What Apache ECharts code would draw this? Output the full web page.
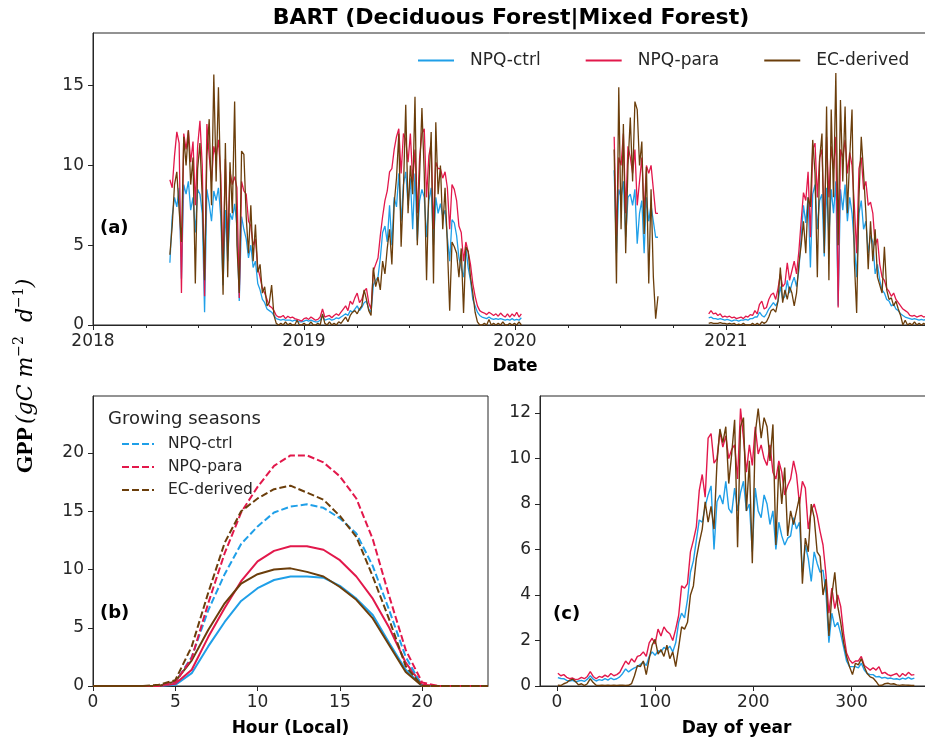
<!DOCTYPE html>
<html>
<head>
<meta charset="utf-8">
<title>BART GPP</title>
<script src="https://cdn.jsdelivr.net/npm/echarts@6/dist/echarts.min.js"></script>
<style>
  html, body { margin: 0; padding: 0; background: #fff; }
  #chart { width: 925px; height: 738px; }
</style>
</head>
<body>
<div id="chart"></div>
<script>
// ---------------- (a) daily GPP, sampled every 4 days ----------------
// day numbers count from 2018-01-01; null rows mark the gaps in the record
const daysA = [
  133,137,141,145,149,153,157,161,165,169,173,177,181,185,189,193,197,201,205,209,
  213,217,221,225,229,233,237,241,245,249,253,257,261,265,269,273,277,281,285,289,
  293,297,301,305,309,313,317,321,325,329,333,337,341,345,349,353,357,361,365,369,
  373,377,381,385,389,393,397,401,405,409,413,417,421,425,429,433,437,441,445,449,
  453,457,461,465,469,473,477,481,485,489,493,497,501,505,509,513,517,521,525,529,
  533,537,541,545,549,553,557,561,565,569,573,577,581,585,589,593,597,601,605,609,
  613,617,621,625,629,633,637,641,645,649,653,657,661,665,669,673,677,681,685,689,
  693,697,701,705,709,713,717,721,725,729,733,737,741,
  820,
  902,906,910,914,918,922,926,930,934,938,942,946,950,954,958,962,966,970,974,978,
  1020,
  1066,1070,1074,1078,1082,1086,1090,1094,1098,1102,1106,1110,1114,1118,1122,1126,1130,1134,1138,1142,
  1146,1150,1154,1158,1162,1166,1170,1174,1178,1182,1186,1190,1194,1198,1202,1206,1210,1214,1218,1222,
  1226,1230,1234,1238,1242,1246,1250,1254,1258,1262,1266,1270,1274,1278,1282,1286,1290,1294,1298,1302,
  1306,1310,1314,1318,1322,1326,1330,1334,1338,1342,1346,1350,1354,1358,1362,1366,1370,1374,1378,1382,
  1386,1390,1394,1398,1402,1406,1410,1414,1418,1422,1426,1430,1434,1438,1442,1446,1450,1454,1458
];
const ctrlA = [
  3.9,6.8,8.0,7.4,8.6,2.9,8.8,8.2,9.0,7.2,8.0,5.8,8.5,8.2,7.0,0.8,8.5,7.6,6.5,8.4,
  7.8,8.6,6.8,2.5,7.2,4.0,7.0,6.6,7.6,6.2,1.5,6.8,6.0,5.4,4.2,5.0,3.6,4.0,2.6,2.2,
  1.6,1.4,1.0,0.9,0.8,0.6,0.4,0.35,0.3,0.35,0.3,0.3,0.3,0.25,0.3,0.25,0.2,0.2,0.25,0.3,
  0.25,0.3,0.25,0.2,0.2,0.3,0.6,0.3,0.35,0.4,0.3,0.35,0.45,0.4,0.5,0.6,0.7,0.6,0.9,0.8,
  1.0,1.2,0.9,1.1,1.4,1.5,1.0,0.8,2.5,2.8,3.0,4.2,5.8,6.2,5.2,7.5,5.0,8.0,7.4,9.5,
  6.5,8.8,9.6,7.5,9.2,6.0,9.5,5.3,7.8,8.5,8.0,5.5,7.8,8.6,5.0,8.0,7.0,7.6,6.8,7.2,
  5.5,4.0,6.6,6.4,5.6,4.2,3.6,3.0,4.8,3.6,2.8,1.6,1.2,0.8,0.6,0.5,0.45,0.4,0.5,0.4,
  0.35,0.4,0.35,0.4,0.35,0.3,0.35,0.3,0.4,0.3,0.35,0.3,0.45,
  null,
  9.7,4.5,8.5,8.0,9.0,5.5,8.0,8.2,7.5,8.5,5.1,7.0,7.8,4.5,8.0,6.5,7.5,6.5,5.5,5.5,
  null,
  0.45,0.5,0.4,0.4,0.35,0.4,0.35,0.3,0.35,0.3,0.25,0.3,0.3,0.25,0.3,0.3,0.35,0.3,0.4,0.4,
  0.5,0.5,0.8,0.6,0.5,0.7,1.0,1.2,1.4,1.2,1.5,2.4,1.6,1.8,2.8,2.0,2.6,3.0,2.4,3.4,
  5.5,7.5,6.4,8.0,3.6,8.2,8.8,6.0,7.8,8.2,4.3,8.6,5.5,8.5,7.0,9.0,1.2,8.5,7.2,8.8,
  6.5,8.0,7.0,5.0,3.0,7.0,7.8,6.0,6.5,4.5,5.6,5.2,3.2,3.8,2.8,2.2,2.0,1.6,1.5,1.2,
  1.3,1.0,0.9,0.7,0.6,0.5,0.45,0.4,0.35,0.4,0.35,0.3,0.35,0.3,0.35,0.3,0.35,0.3,0.35
];
const paraA = [
  9.1,8.6,10.6,12.1,11.4,2.0,12.0,11.0,12.2,10.2,11.5,7.5,11.2,12.8,10.0,1.8,12.6,10.6,9.0,11.2,
  10.5,11.6,9.4,3.5,10.4,5.0,9.6,8.8,9.3,8.6,1.7,9.0,8.4,8.2,6.5,6.2,5.0,5.4,3.6,3.0,
  2.3,2.0,1.6,1.2,1.1,0.9,0.6,0.5,0.5,0.6,0.4,0.55,0.45,0.5,0.4,0.35,0.3,0.25,0.4,0.45,
  0.35,0.5,0.4,0.3,0.35,0.5,1.0,0.5,0.55,0.6,0.45,0.6,0.7,0.6,0.8,1.0,1.2,0.9,1.5,1.3,
  1.7,2.0,1.4,1.6,2.1,2.3,1.4,1.0,3.4,3.8,4.2,5.6,6.8,7.8,8.4,9.6,9.8,11.0,11.8,12.3,
  9.5,12.0,11.6,10.2,12.0,9.0,11.0,7.0,10.5,12.0,12.3,8.0,10.6,11.4,6.0,10.2,9.8,9.8,9.2,9.6,
  8.6,6.0,8.8,8.5,7.8,6.2,5.8,4.0,5.2,4.6,3.8,2.6,1.8,1.2,0.9,0.8,0.75,0.65,0.8,0.7,
  0.6,0.7,0.55,0.75,0.6,0.5,0.7,0.5,0.7,0.55,0.8,0.5,0.7,
  null,
  11.8,5.6,10.5,10.0,12.0,7.0,11.2,10.5,9.5,11.0,7.5,9.0,10.5,7.0,10.0,9.5,10.0,8.5,7.0,7.0,
  null,
  0.7,0.9,0.7,0.75,0.6,0.7,0.5,0.55,0.5,0.55,0.45,0.5,0.4,0.45,0.5,0.4,0.55,0.5,0.65,0.6,
  0.9,0.7,1.3,1.5,1.0,1.1,1.6,1.9,2.0,1.6,2.3,3.2,2.4,2.6,3.9,2.8,3.4,4.0,3.2,4.6,
  6.5,8.3,7.8,9.6,5.5,11.0,11.4,8.0,10.5,11.0,6.0,11.8,8.0,11.2,9.8,11.8,1.1,11.0,10.5,11.6,
  9.5,10.8,10.0,7.5,4.5,9.8,10.5,8.5,9.0,7.5,7.7,7.0,5.0,5.4,3.8,3.0,2.8,2.3,2.1,1.8,
  2.0,1.6,1.4,1.2,1.0,0.9,0.8,0.6,0.55,0.6,0.5,0.55,0.6,0.5,0.55,0.5,0.6,0.5,0.55
];
const ecA = [
  4.4,6.2,8.8,9.6,7.2,5.2,11.8,10.0,12.2,8.8,10.5,2.6,9.8,11.4,8.0,2.8,10.6,12.9,7.5,15.7,
  9.0,14.9,8.2,1.9,11.4,3.0,10.2,7.0,14.0,5.0,2.0,10.9,10.7,6.8,4.5,7.5,4.0,6.3,3.3,3.8,
  2.0,2.4,1.2,1.4,2.5,0.6,0.1,0.0,0.1,0.0,0.2,0.0,0.1,0.0,0.0,0.3,0.0,0.0,0.1,0.0,
  0.0,0.2,0.0,0.0,0.1,0.0,0.7,0.1,0.0,0.2,0.0,0.1,0.0,0.2,0.1,0.3,0.5,0.2,0.6,0.8,
  0.9,0.7,1.0,1.2,2.2,1.6,0.9,0.6,3.6,2.4,3.0,2.2,4.0,3.2,4.8,6.0,3.8,7.6,9.2,12.0,
  4.9,8.5,13.8,7.0,10.0,8.2,14.3,5.0,9.4,13.6,9.5,2.8,8.8,12.1,2.6,12.7,8.2,10.0,6.0,8.6,
  5.0,0.9,5.2,4.9,4.5,3.0,4.8,0.75,4.9,4.6,3.0,2.0,0.8,0.2,0.0,0.0,0.1,0.0,0.35,0.0,
  0.1,0.0,0.1,0.0,0.2,0.0,0.0,0.1,0.0,0.1,0.0,0.2,0.0,
  null,
  11.0,2.6,14.9,6.0,12.6,4.5,10.0,13.0,9.0,14.0,13.5,10.0,11.5,5.7,9.9,2.6,8.5,3.0,0.4,1.8,
  null,
  0.1,0.15,0.1,0.1,0.1,0.15,0.1,0.1,0.05,0.1,0.05,0.1,0.0,0.05,0.0,0.1,0.0,0.0,0.0,0.1,
  0.0,0.1,0.0,0.2,0.1,0.2,0.5,0.9,1.0,0.8,1.5,3.6,1.4,2.2,1.6,2.4,2.0,1.2,2.0,3.8,
  5.0,6.5,4.5,8.0,7.4,11.6,9.5,3.0,10.4,12.0,4.5,13.7,2.8,13.5,8.0,15.8,5.0,14.1,9.0,13.7,
  7.0,10.5,13.5,4.0,0.75,8.0,11.8,9.5,7.0,3.5,6.5,4.0,6.0,3.0,2.5,2.0,4.9,2.2,1.6,1.7,
  1.2,1.5,1.0,0.6,0.0,0.3,0.0,0.1,0.0,0.2,0.0,0.1,0.0,0.1,0.0,0.1,0.0,0.05,0.0
];

// ---------------- (b) mean diurnal cycle ----------------
const hoursB = [0,1,2,3,4,5,6,7,8,9,10,11,12,13,14,15,16,17,18,19,20,21,22,23,24];
const ctrlB = [0,0,0,0,0,0.1,1.1,3.4,5.5,7.3,8.4,9.1,9.4,9.4,9.3,8.6,7.5,6.1,3.7,1.4,0,0,0,0,0];
const paraB = [0,0,0,0,0,0.2,1.4,4.2,6.7,9.0,10.7,11.6,12.0,12.0,11.7,10.8,9.4,7.5,5.0,2.0,0.1,0,0,0,0];
const ecB   = [0,0,0,0,0,0.4,2.2,4.8,7.1,8.8,9.6,10.0,10.1,9.8,9.4,8.5,7.4,5.8,3.5,1.2,0,0,0,0,0];
// growing-season means
const ctrlBgs = [0,0,0,0,0,0.3,2.5,6.5,9.6,12.2,13.7,14.9,15.4,15.6,15.3,14.4,13.1,10.3,6.5,2.5,0,0,0,0,0];
const paraBgs = [0,0,0,0,0,0.3,2.4,7.1,11.4,14.9,17.1,18.9,19.8,19.8,19.2,18.0,16.1,12.6,7.7,3.1,0.3,0,0,0,0];
const ecBgs   = [0,0,0,0,0.1,0.5,3.4,8.0,12.3,15.0,16.1,16.9,17.2,16.6,16.0,14.6,12.8,9.4,5.7,1.7,0,0,0,0,0];

// ---------------- (c) mean seasonal cycle, every 3rd day ----------------
const daysC = [
  1,4,7,10,13,16,19,22,25,28,31,34,37,40,43,46,49,52,55,58,
  61,64,67,70,73,76,79,82,85,88,91,94,97,100,103,106,109,112,115,118,
  121,124,127,130,133,136,139,142,145,148,151,154,157,160,163,166,169,172,175,178,
  181,184,187,190,193,196,199,202,205,208,211,214,217,220,223,226,229,232,235,238,
  241,244,247,250,253,256,259,262,265,268,271,274,277,280,283,286,289,292,295,298,
  301,304,307,310,313,316,319,322,325,328,331,334,337,340,343,346,349,352,355,358,
  361,364
];
const ctrlC = [
  0.37,0.33,0.32,0.25,0.22,0.25,0.18,0.22,0.25,0.2,0.3,0.45,0.3,0.22,0.28,0.25,0.32,0.26,0.35,0.28,
  0.32,0.4,0.55,0.75,0.62,0.72,0.8,0.85,0.95,1.05,0.9,1.3,1.5,1.35,1.55,1.5,1.7,1.6,1.75,1.5,
  1.9,2.8,3.2,3.0,3.8,5.0,5.5,6.4,7.3,7.2,7.9,8.4,8.8,6.0,8.1,8.4,8.0,9.0,7.8,7.6,
  8.7,7.7,8.5,9.0,7.7,8.0,5.9,8.7,7.7,7.4,8.4,8.0,7.1,7.7,6.0,7.2,6.6,6.2,6.5,6.6,
  7.4,6.9,7.2,5.0,6.2,5.6,4.6,5.9,5.4,5.0,5.1,4.1,1.9,3.2,2.6,2.8,2.3,1.7,1.1,0.85,
  0.85,0.85,0.8,1.0,0.7,0.55,0.5,0.5,0.4,0.42,0.35,0.38,0.33,0.35,0.3,0.32,0.28,0.35,0.3,0.38,
  0.3,0.35
];
const paraC = [
  0.56,0.45,0.5,0.38,0.32,0.35,0.28,0.3,0.38,0.32,0.42,0.63,0.42,0.32,0.42,0.38,0.48,0.4,0.55,0.45,
  0.5,0.6,0.85,1.1,0.95,1.2,1.05,1.3,1.35,1.5,1.3,1.9,2.1,1.85,2.5,2.2,2.6,2.4,2.3,2.0,
  2.5,3.1,4.4,4.3,4.5,5.9,6.4,7.0,8.6,9.3,8.3,10.9,11.1,9.8,10.0,11.2,10.5,11.0,10.0,10.4,
  10.6,9.1,12.2,10.9,9.4,10.6,9.7,11.4,10.2,10.6,10.0,9.7,10.6,9.4,9.1,9.9,9.4,8.4,8.8,9.1,
  9.9,9.3,8.0,9.0,8.7,6.9,7.7,8.0,7.5,6.8,6.2,4.9,3.2,4.3,3.4,4.0,3.5,2.3,1.45,1.15,
  1.0,1.1,1.1,1.3,0.9,0.8,0.7,0.8,0.7,0.85,0.55,0.6,0.5,0.45,0.5,0.55,0.4,0.55,0.45,0.6,
  0.48,0.5
];
const ecC = [
  0.03,0.02,0.1,0.15,0.25,0.3,0.2,0.05,0.1,0.02,0.1,0.32,0.15,0.03,0.02,0.03,0.02,0.03,0.02,0.03,
  0.02,0.03,0.03,0.02,0.03,0.1,0.45,0.9,0.85,1.1,0.5,1.2,1.8,2.05,1.4,1.6,1.3,1.8,1.2,1.5,
  0.85,1.7,2.6,2.5,2.8,4.0,4.4,5.6,6.3,6.9,8.1,7.2,7.9,6.9,9.8,11.3,10.7,11.4,8.9,10.2,
  11.7,6.1,11.4,11.8,7.7,9.9,5.4,11.1,12.2,10.9,11.8,11.4,9.9,11.5,6.2,9.7,8.0,9.6,6.6,7.7,
  7.1,7.7,8.3,4.5,6.5,5.9,8.0,7.4,5.9,5.7,4.0,4.7,2.2,4.0,5.0,3.5,2.8,1.9,1.3,0.85,
  0.5,1.0,0.93,1.2,0.85,0.55,0.4,0.35,0.2,0.02,0.03,0.1,0.12,0.08,0.1,0.05,0.03,0.05,0.04,0.03,
  0.02,0.02
];

const seriesNames = ['NPQ-ctrl', 'NPQ-para', 'EC-derived'];
const seriesColors = ['#1f9fe8', '#e2184b', '#6b3e0b'];

// ---------------- helpers ----------------
const FONT = 'DejaVu Sans';
const INK = '#262626';
const yearStarts = [0, 365, 730, 1096, 1461];   // day offsets of Jan 1st, 2018..2022

function dayToYear(d) {
  for (let i = 0; i < yearStarts.length - 1; i++) {
    if (d < yearStarts[i + 1]) {
      return 2018 + i + (d - yearStarts[i]) / (yearStarts[i + 1] - yearStarts[i]);
    }
  }
  return 2022;
}
function zip(xs, ys) { return xs.map((x, i) => [x, ys[i]]); }

const tickLabelStyle = { color: INK, fontSize: 17, fontFamily: FONT };

function valueAxis(gridIndex, min, max, ticks, extra) {
  return Object.assign({
    type: 'value', gridIndex, min, max,
    axisLine: { show: true, onZero: false, lineStyle: { color: INK, width: 1 } },
    axisTick: { show: true, length: 5, customValues: ticks, lineStyle: { color: INK, width: 1 } },
    axisLabel: Object.assign({ customValues: ticks, margin: 9, formatter: v => String(v) }, tickLabelStyle),
    splitLine: { show: false }
  }, extra || {});
}
const axisName = (text, gap) => ({
  name: text, nameLocation: 'middle', nameGap: gap,
  nameTextStyle: { color: '#000', fontSize: 17, fontWeight: 'bold', fontFamily: FONT }
});

function lineSeries(name, xi, data, color, width, dashed) {
  return {
    name, type: 'line', xAxisIndex: xi, yAxisIndex: xi, data,
    symbol: 'none', showSymbol: false, connectNulls: false, clip: true,
    lineStyle: { color, width, type: dashed ? [7, 3] : 'solid' },
    itemStyle: { color },
    emphasis: { disabled: true }
  };
}

const xA = daysA.map(dayToYear);
const seriesA = [ctrlA, paraA, ecA];
const seriesBsolid = [ctrlB, paraB, ecB];
const seriesBgs = [ctrlBgs, paraBgs, ecBgs];
const seriesC = [ctrlC, paraC, ecC];
const gsSuffix = ' growing';

const series = [];
seriesA.forEach((vals, i) => series.push(lineSeries(seriesNames[i], 0, zip(xA, vals), seriesColors[i], 1.3)));
seriesBsolid.forEach((vals, i) => series.push(lineSeries(seriesNames[i] + ' hourly', 1, zip(hoursB, vals), seriesColors[i], 2)));
seriesBgs.forEach((vals, i) => series.push(lineSeries(seriesNames[i] + gsSuffix, 1, zip(hoursB, vals), seriesColors[i], 2, true)));
seriesC.forEach((vals, i) => series.push(lineSeries(seriesNames[i], 2, zip(daysC, vals), seriesColors[i], 1.4)));

const gridStyle = { show: true, borderColor: INK, borderWidth: 1, backgroundColor: 'transparent',
                    containLabel: false, outerBoundsMode: 'none' };

const option = {
  animation: false,
  backgroundColor: '#ffffff',
  grid: [
    Object.assign({ left: 93, top: 33, width: 844, height: 292 }, gridStyle),
    Object.assign({ left: 93, top: 396, width: 395, height: 290 }, gridStyle),
    Object.assign({ left: 540, top: 396, width: 393, height: 290 }, gridStyle)
  ],
  xAxis: [
    Object.assign({
      type: 'value', gridIndex: 0, min: 2018, max: 2022, interval: 1,
      axisLine: { show: true, onZero: false, lineStyle: { color: INK, width: 1 } },
      axisTick: { show: true, length: 5, lineStyle: { color: INK, width: 1 } },
      minorTick: { show: true, splitNumber: 4, length: 3, lineStyle: { color: INK, width: 1 } },
      axisLabel: Object.assign({ margin: 8, showMaxLabel: false,
                                 formatter: v => String(Math.round(v)) }, tickLabelStyle),
      splitLine: { show: false }, minorSplitLine: { show: false }
    }, axisName('Date', 33)),
    valueAxis(1, 0, 24, [0, 5, 10, 15, 20], Object.assign({
      axisLabel: Object.assign({ customValues: [0, 5, 10, 15, 20], margin: 8, formatter: v => String(v) }, tickLabelStyle)
    }, axisName('Hour (Local)', 34))),
    valueAxis(2, -17.2, 383, [0, 100, 200, 300], Object.assign({
      axisLabel: Object.assign({ customValues: [0, 100, 200, 300], margin: 8, formatter: v => String(v) }, tickLabelStyle)
    }, axisName('Day of year', 34)))
  ],
  yAxis: [
    valueAxis(0, 0, 18.3, [0, 5, 10, 15]),
    valueAxis(1, 0, 24.9, [0, 5, 10, 15, 20]),
    valueAxis(2, 0, 12.75, [0, 2, 4, 6, 8, 10, 12])
  ],
  legend: [
    {
      data: seriesNames, left: 417, top: 52, orient: 'horizontal', padding: 0,
      itemWidth: 36, itemHeight: 18, itemGap: 44,
      itemStyle: { opacity: 0 }, lineStyle: { width: 2 },
      textStyle: { color: INK, fontSize: 17, fontFamily: FONT, padding: [0, 0, 0, 11] },
      selectedMode: false
    },
    {
      data: seriesNames.map(n => n + gsSuffix), left: 121, top: 436, orient: 'vertical', padding: 0,
      itemWidth: 32, itemHeight: 18, itemGap: 7,
      itemStyle: { opacity: 0 }, lineStyle: { width: 2 },
      formatter: n => n.replace(gsSuffix, ''),
      textStyle: { color: INK, fontSize: 15.5, fontFamily: FONT, padding: [0, 0, 0, 9] },
      selectedMode: false
    }
  ],
  graphic: [
    { type: 'text', x: 511, y: 18,
      style: { text: 'BART (Deciduous Forest|Mixed Forest)', fill: '#000', fontSize: 22,
               fontWeight: 'bold', fontFamily: FONT, align: 'center', verticalAlign: 'middle' } },
    { type: 'text', x: 100, y: 228,
      style: { text: '(a)', fill: '#000', fontSize: 18, fontWeight: 'bold', fontFamily: FONT,
               align: 'left', verticalAlign: 'middle' } },
    { type: 'text', x: 100, y: 613,
      style: { text: '(b)', fill: '#000', fontSize: 18, fontWeight: 'bold', fontFamily: FONT,
               align: 'left', verticalAlign: 'middle' } },
    { type: 'text', x: 553, y: 614,
      style: { text: '(c)', fill: '#000', fontSize: 18, fontWeight: 'bold', fontFamily: FONT,
               align: 'left', verticalAlign: 'middle' } },
    { type: 'text', x: 108, y: 419,
      style: { text: 'Growing seasons', fill: INK, fontSize: 18, fontFamily: FONT,
               align: 'left', verticalAlign: 'middle' } },
    { type: 'text', x: 26, y: 376, rotation: Math.PI / 2,
      style: {
        text: '{b|GPP} {m|(gC m}{s|−2}{m|  d}{s|−1}{m|)}',
        align: 'center', verticalAlign: 'middle', fill: '#000',
        rich: {
          b: { fontFamily: 'Liberation Serif', fontWeight: 'bold', fontSize: 23, lineHeight: 28, fill: '#000' },
          m: { fontFamily: 'DejaVu Serif', fontStyle: 'italic', fontSize: 22, lineHeight: 28, fill: '#000' },
          s: { fontFamily: 'DejaVu Serif', fontSize: 14, lineHeight: 28, verticalAlign: 'top', fill: '#000' }
        }
      } }
  ],
  series
};

const chart = echarts.init(document.getElementById('chart'), null, { renderer: 'canvas' });
chart.setOption(option);
</script>
</body>
</html>
